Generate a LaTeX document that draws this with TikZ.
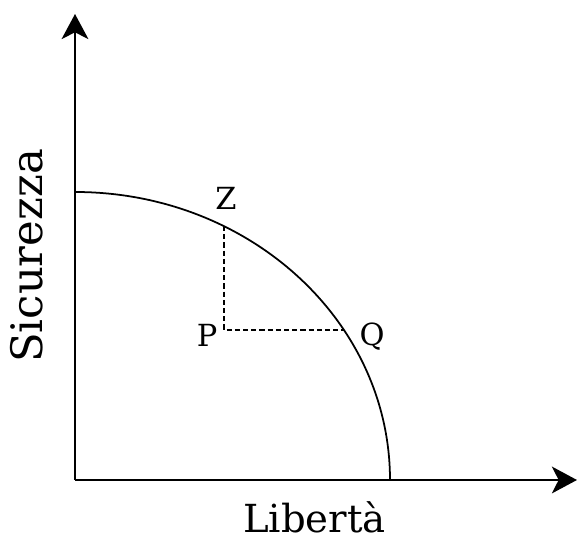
\documentclass[tikz,border=0pt]{standalone}
\usepackage{fontspec}
\setmainfont{DejaVu Serif}
\usepackage{tikz}
\usetikzlibrary{arrows.meta}

\begin{document}
\begin{tikzpicture}[scale=0.03,>={Stealth[length=7.5mm,width=8mm,inset=2mm]},
  lbl/.style={font=\fontsize{26}{30}\selectfont,anchor=base,inner sep=0pt}]
  \useasboundingbox (-75,-63) rectangle (502,480);
  \coordinate (O) at (0,0);
  \coordinate (xend) at (502,0);
  \coordinate (yend) at (0,466);
  \coordinate (Z) at (149,254);
  \coordinate (Q) at (269,150);
  \coordinate (P) at (149,150);
  \draw[->,line width=2pt] (O) -- (xend);
  \draw[->,line width=2pt] (O) -- (yend);
  \draw[line width=1.5pt] (0,288) arc[start angle=90,end angle=0,x radius=315,y radius=288];
  \draw[dash pattern=on 4.5pt off 2.5pt,line width=1.1pt] (Z) -- (P) -- (Q);
  \node[lbl] (zlab) at (151,270) {Z};
  \node[lbl] (plab) at (132,133) {P};
  \node[lbl] (qlab) at (297,134) {Q};
  \node[lbl,font=\fontsize{33}{36}\selectfont] (xlab) at (239.5,-53) {Libertà};
  \node[lbl,font=\fontsize{37}{40}\selectfont,rotate=90] (ylab) at (-32,224) {Sicurezza};
\end{tikzpicture}
\end{document}
